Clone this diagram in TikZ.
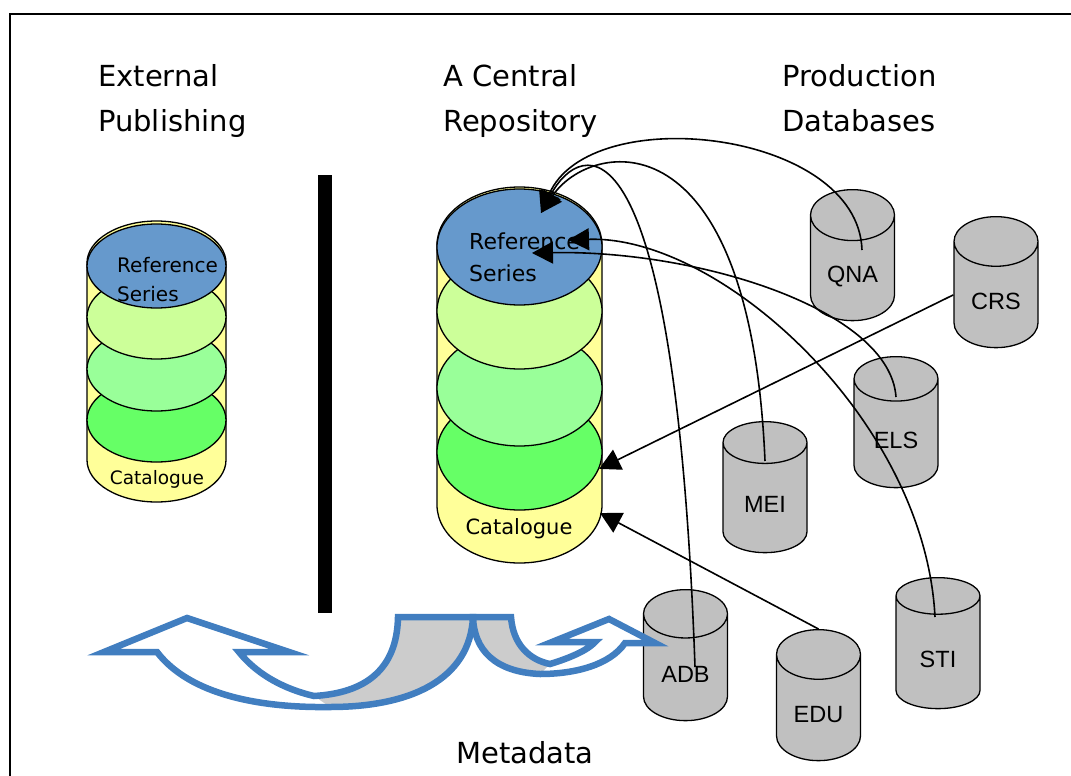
\documentclass[tikz,border=0pt]{standalone}
\usepackage{fontspec}
\setmainfont{DejaVu Sans}
\newfontfamily\dbfont{Liberation Sans}
\usetikzlibrary{arrows.meta, shapes.geometric, calc}

\definecolor{refblue}{RGB}{102,153,204}
\definecolor{paleyellow}{RGB}{255,255,153}
\definecolor{limegreen}{RGB}{204,255,153}
\definecolor{mintgreen}{RGB}{153,255,153}
\definecolor{brightgreen}{RGB}{102,255,102}
\definecolor{dbgray}{RGB}{192,192,192}
\definecolor{metablue}{RGB}{65,126,192}
\definecolor{ribbongray}{RGB}{204,204,204}

\begin{document}
\begin{tikzpicture}[x=1pt, y=-1pt,
    head/.style={font=\fontsize{29}{45}\selectfont, align=left, anchor=north west, inner sep=0pt},
    disc/.style={ellipse, draw, line width=1.3pt, inner sep=0pt},
    smalldisc/.style={disc, minimum width=139pt, minimum height=84pt},
    bigdisc/.style={disc, minimum width=165pt, minimum height=116pt},
    db/.style={cylinder, shape border rotate=90, aspect=1, draw, line width=1.3pt, fill=dbgray,
        minimum width=84pt, minimum height=131pt, inner sep=0pt, anchor=north,
        text height=29pt, text depth=0pt,
        font=\dbfont\fontsize{23.5}{26}\selectfont},
    link/.style={line width=1.6pt, -{Triangle[length=21pt, width=22pt]}},
    ribbon/.style={draw=metablue, line width=6.5pt, line join=miter, miter limit=10}
]
    \useasboundingbox (0,0) rectangle (1071,776);

    % Frame
    \draw[line width=2pt] (10,776) -- (10,14) -- (1071,14);

    % Headings
    \node[head] (extpub) at (98,64) {External\\Publishing};
    \node[head] (central) at (443,64) {A Central\\Repository};
    \node[head] (prod) at (782,64) {Production\\Databases};

    % Divider
    \node[fill=black, minimum width=14pt, minimum height=438pt, inner sep=0pt] (divider) at (325,394) {};

    % External publishing stack
    \draw[fill=paleyellow, line width=1.3pt] (87,263) -- (87,460)
        arc[start angle=180, end angle=360, x radius=69.5pt, y radius=42pt] -- (226,263)
        arc[start angle=0, end angle=180, x radius=69.5pt, y radius=42pt] -- cycle;
    \node[smalldisc, fill=brightgreen] (lg3) at (156.5,420) {};
    \node[smalldisc, fill=mintgreen] (lg2) at (156.5,369) {};
    \node[smalldisc, fill=limegreen] (lg1) at (156.5,317) {};
    \node[smalldisc, fill=refblue] (lref) at (156.5,266) {};
    \node[anchor=north west, align=left, inner sep=0pt, font=\fontsize{20}{29}\selectfont] (lreftxt) at (117,257) {Reference\\Series};
    \node[inner sep=0pt, font=\fontsize{18.5}{22}\selectfont] (lcat) at (157,479) {Catalogue};

    % Central repository stack
    \draw[fill=paleyellow, line width=1.3pt] (437,245) -- (437,505)
        arc[start angle=180, end angle=360, x radius=82.5pt, y radius=58pt] -- (602,245)
        arc[start angle=0, end angle=180, x radius=82.5pt, y radius=58pt] -- cycle;
    \node[bigdisc, fill=brightgreen] (cg3) at (519.5,452) {};
    \node[bigdisc, fill=mintgreen] (cg2) at (519.5,388) {};
    \node[bigdisc, fill=limegreen] (cg1) at (519.5,311) {};
    \node[bigdisc, fill=refblue] (cref) at (519.5,247) {};
    \node[anchor=north west, align=left, inner sep=0pt, font=\fontsize{22}{32}\selectfont] (creftxt) at (469,233) {Reference\\Series};
    \node[inner sep=0pt, font=\fontsize{21}{25}\selectfont] (ccat) at (519,529) {Catalogue};

    % Production databases
    \node[db] (qna) at (852.5,189) {QNA};
    \node[db] (crs) at (996,216) {CRS};
    \node[db] (els) at (896,356) {ELS};
    \node[db] (mei) at (765,421) {MEI};
    \node[db] (adb) at (685.5,589) {ADB};
    \node[db] (edu) at (818.5,629) {EDU};
    \node[db] (sti) at (938,577) {STI};

    % Metadata ribbons
    \fill[ribbongray] (398,617) -- (473,617) .. controls (470,680) and (410,707) .. (330,707)
        -- (314,696) .. controls (365,693) and (397,670) .. (398,617);
    \fill[ribbongray] (473,617) -- (511,617) .. controls (513,645) and (530,660) .. (550,664)
        -- (540,674) .. controls (495,672) and (474,650) .. (473,617);
    \draw[ribbon] (157,652) .. controls (190,695) and (260,708) .. (330,707)
        .. controls (410,707) and (470,680) .. (473,617) -- (398,617)
        .. controls (397,670) and (365,693) .. (314,696)
        .. controls (280,688) and (255,672) .. (239,652)
        -- (289,652) -- (187,618) -- (104,652) -- cycle;
    \draw[ribbon] (473,617) -- (511,617) .. controls (513,645) and (530,660) .. (550,664)
        .. controls (570,658) and (588,650) .. (595,642)
        -- (552,642) -- (609,619) -- (655,643) -- (625,643)
        .. controls (610,665) and (575,674) .. (540,674)
        .. controls (495,672) and (474,650) .. (473,617) -- cycle;
    \node[anchor=north, inner sep=0pt, font=\fontsize{29}{35}\selectfont] (meta) at (525,741) {Metadata};

    % Feeds into the repository
    \coordinate (topin) at (541,213);
    \coordinate (stiin) at (568,240);
    \coordinate (elsin) at (532,253);
    \coordinate (catin) at (600,513);

    \draw[link] ($(qna.north)+(9.5,61)$) .. controls (858,130) and (590,100) .. (topin);
    \draw[link] ($(adb.north)+(9.5,78)$) .. controls (675,100) and (580,140) .. (topin);
    \draw[link] ($(mei.north)+(0,40)$) .. controls (750,110) and (590,140) .. (topin);
    \draw[link] ($(els.north)+(0,41)$) .. controls (890,310) and (700,250) .. (elsin);
    \draw[link] ($(sti.north)+(-3,40)$) .. controls (925,420) and (720,235) .. (stiin);
    \draw[link] (crs.west) -- (cg3.-12);
    \draw[link] (edu.north) -- (catin);
\end{tikzpicture}
\end{document}
